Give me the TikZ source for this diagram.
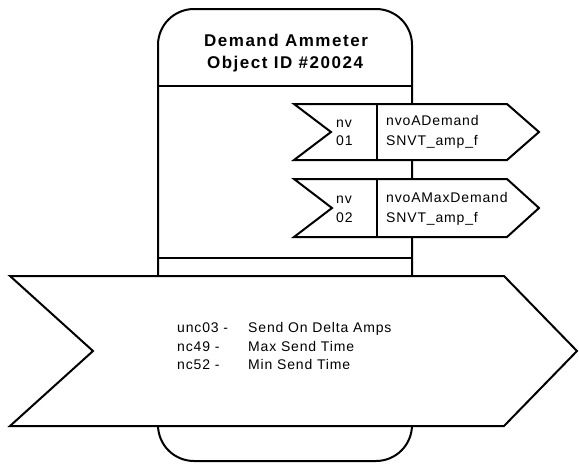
\documentclass[tikz,border=0pt]{standalone}
\usepackage{fontspec}
\setmainfont{Liberation Sans}
\newfontfamily\titlefont[LetterSpace=9]{Liberation Sans}
\newfontfamily\nvfont[LetterSpace=6]{Liberation Sans}
\usetikzlibrary{positioning,calc}

\tikzset{
  outline/.style={draw=black,line width=2pt,fill=white,line join=miter},
  divider/.style={draw=black,line width=1.2pt},
  titletext/.style={font=\titlefont\bfseries\fontsize{17}{20}\selectfont,inner sep=0pt},
  nvtext/.style={font=\nvfont\fontsize{14}{17}\selectfont,inner sep=0pt,anchor=base west},
}

\begin{document}
\begin{tikzpicture}[x=1pt,y=-1pt]
\useasboundingbox (0,0) rectangle (579,464);

% object body
\draw[outline,rounded corners=36pt] (285,461) -- (158,461) -- (158,9) -- (412,9) -- (412,461) -- cycle;
\node[titletext] (objname) at (286,40) {Demand Ammeter};
\node[titletext] (objid) at (285,64) {Object ID \#20024};
\draw[divider] (158,86) -- (412,86);
\draw[divider] (158,258) -- (412,258);

% network variables
\draw[outline] (294,104) -- (507,104) -- (539,132) -- (507,160) -- (294,160) -- (331,132) -- cycle;
\draw[divider] (377,104) -- (377,160);
\node[nvtext] (nv1) at (336,127) {nv};
\node[nvtext] (nv1num) at (336,145) {01};
\node[nvtext] (nv1name) at (386,125) {nvoADemand};
\node[nvtext] (nv1type) at (386,145) {SNVT\_amp\_f};

\draw[outline] (294,179) -- (507,179) -- (539,208) -- (507,237) -- (294,237) -- (332,208) -- cycle;
\draw[divider] (377,179) -- (377,237);
\node[nvtext] (nv2) at (336,203) {nv};
\node[nvtext] (nv2num) at (336,222) {02};
\node[nvtext] (nv2name) at (386,202) {nvoAMaxDemand};
\node[nvtext] (nv2type) at (386,222) {SNVT\_amp\_f};

% configuration properties
\draw[outline] (10,276) -- (504,276) -- (577,351) -- (504,426) -- (10,426) -- (93,351) -- cycle;
\node[nvtext] (cp1) at (177,332) {unc03 -};
\node[nvtext] (cp1name) at (248,332) {Send On Delta Amps};
\node[nvtext] (cp2) at (177,351) {nc49 -};
\node[nvtext] (cp2name) at (248,351) {Max Send Time};
\node[nvtext] (cp3) at (177,369) {nc52 -};
\node[nvtext] (cp3name) at (248,369) {Min Send Time};
\end{tikzpicture}
\end{document}
